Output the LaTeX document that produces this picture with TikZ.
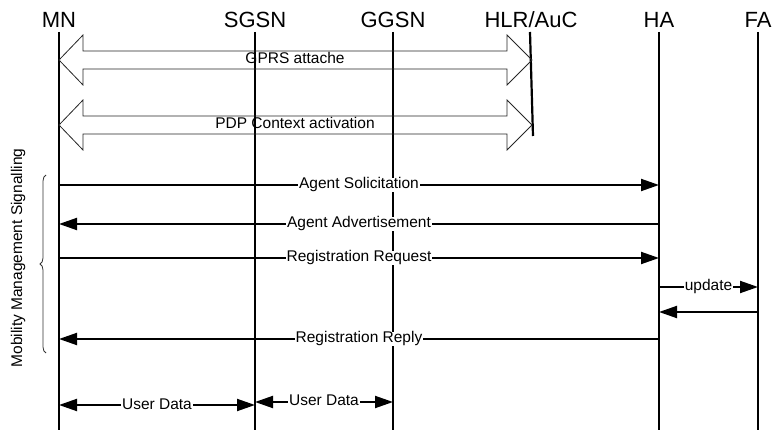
\documentclass[tikz,border=0pt]{standalone}
\usepackage{fontspec}
\setmainfont{Liberation Sans}
\usetikzlibrary{arrows.meta, decorations.pathreplacing}

\tikzset{
  entity/.style={anchor=base, inner sep=0pt, font=\fontsize{22}{25}\selectfont},
  lifeline/.style={line width=2.2pt},
  msg/.style={line width=2pt, -{Triangle[length=18pt, width=12pt]}},
  dmsg/.style={line width=2pt, {Triangle[length=18pt, width=12pt]}-{Triangle[length=18pt, width=12pt]}},
  lbl/.style={fill=white, inner xsep=1pt, inner ysep=0pt, text height=11pt, text depth=3pt},
  bigarrow/.style={draw=black!85, line width=0.8pt}
}

\begin{document}
\begin{tikzpicture}[x=1pt, y=-1pt, font=\fontsize{15.5}{18}\selectfont]
    \useasboundingbox (0,0) rectangle (774,430);

    % Entities
    \node[entity] (MN) at (59,28) {MN};
    \node[entity] (SGSN) at (255,28) {SGSN};
    \node[entity] (GGSN) at (393,28) {GGSN};
    \node[entity] (HLR) at (531,28) {HLR/AuC};
    \node[entity] (HA) at (659,28) {HA};
    \node[entity] (FA) at (758,28) {FA};

    % Lifelines
    \foreach \n in {MN, SGSN, GGSN, HA, FA}
        \draw[lifeline] (\n |- 0,32) -- (\n |- 0,430);
    \draw[lifeline] (530,32) -- (533,136);

    % GPRS attach and PDP context
    \foreach \y/\txt in {60/GPRS attache, 125/PDP Context activation} {
        \draw[bigarrow] (59,\y) -- (83,\y-25) -- (83,\y-9) -- (507,\y-9) -- (507,\y-25)
            -- (532,\y) -- (507,\y+25) -- (507,\y+9) -- (83,\y+9) -- (83,\y+25) -- cycle;
        \node[lbl, fill=none] at (295,\y) {\txt};
    }

    % Mobility management signalling
    \draw[msg] (MN |- 0,185) -- node[lbl] {Agent Solicitation} (HA |- 0,185);
    \draw[msg] (HA |- 0,224) -- node[lbl] {Agent Advertisement} (MN |- 0,224);
    \draw[msg] (MN |- 0,258) -- node[lbl] {Registration Request} (HA |- 0,258);
    \draw[msg] (HA |- 0,287) -- node[lbl] {update} (FA |- 0,287);
    \draw[msg] (FA |- 0,312) -- (HA |- 0,312);
    \draw[msg] (HA |- 0,339) -- node[lbl] {Registration Reply} (MN |- 0,339);

    % User data
    \draw[dmsg] (MN |- 0,405) -- node[lbl] {User Data} (SGSN |- 0,405);
    \draw[dmsg] (SGSN |- 0,402) -- node[lbl] {User Data} (GGSN |- 0,402);

    % Brace
    \draw[black!80, line width=0.8pt, decorate, decoration={brace, amplitude=6pt}]
        (46,353) -- (46,175);
    \node[rotate=90] (mms) at (18,258) {Mobility Management Signalling};
\end{tikzpicture}
\end{document}
